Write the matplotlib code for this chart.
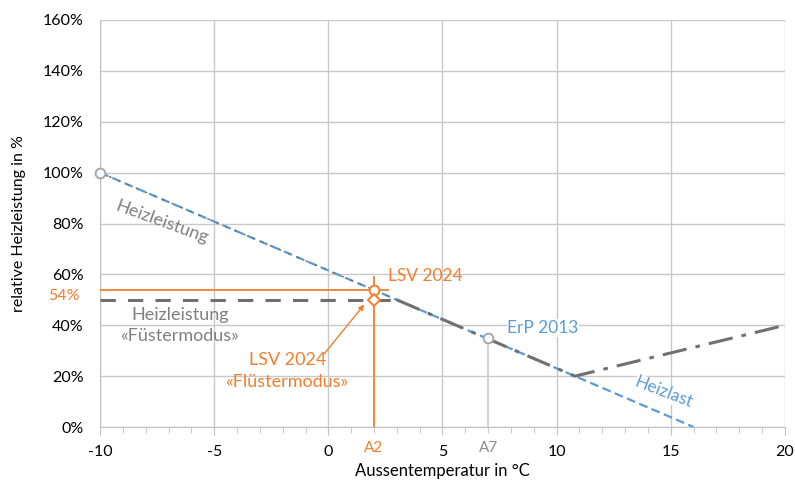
import matplotlib.pyplot as plt
from matplotlib.ticker import MultipleLocator, FuncFormatter

plt.rcParams['font.family'] = ['Lato', 'DejaVu Sans']

# data
heizlast_x = [-10, 16]
heizlast_y = [100, 0]
leistung_upper_x = [-10, 3]
leistung_upper_y = [100, 50]
leistung_x = [3, 10.8, 20]
leistung_y = [50, 20, 40]
fluester_x = [-10, 3]
fluester_y = [50, 50]
a2_temp = 2
a2_lsv = 54
a2_fluester = 50
a7_temp = 7
a7_erp = 35
start_x = -10
start_y = 100

orange = '#f07f2e'
blue = '#5b9bd5'
dgray = '#707070'
lgray = '#a6a6a6'

fig = plt.figure(figsize=(7.95, 4.83), dpi=100)
ax = fig.add_axes([0.1258, 0.1159, 0.8616, 0.8427])

ax.set_xlim(-10, 20)
ax.set_ylim(0, 160)
ax.xaxis.set_major_locator(MultipleLocator(5))
ax.xaxis.set_minor_locator(MultipleLocator(1))
ax.xaxis.set_major_formatter(FuncFormatter(lambda v, p: '%d' % v))
ax.yaxis.set_major_locator(MultipleLocator(20))
ax.yaxis.set_major_formatter(FuncFormatter(lambda v, p: '%d%%' % v))
ax.grid(True, which='major', color='#c8c8c8', lw=1)
for s in ['top', 'right']:
    ax.spines[s].set_visible(False)
ax.spines['left'].set_color('#bfbfbf')
ax.spines['bottom'].set_color('#bfbfbf')
ax.tick_params(axis='y', length=0, labelsize=11.5, pad=12)
ax.tick_params(axis='x', which='major', length=6, color='#bfbfbf', labelsize=11.5, pad=7)
ax.tick_params(axis='x', which='minor', length=4, color='#bfbfbf')
ax.set_axisbelow(True)

# Heizlast
ax.plot(heizlast_x, heizlast_y, color=blue, lw=1.6, ls=(0, (4, 2)), zorder=3)
# Heizleistung
ax.plot(leistung_upper_x, leistung_upper_y, color=dgray, lw=1.0, ls=(0, (2, 5)), zorder=4)
ax.plot(leistung_x, leistung_y, color=dgray, lw=2.2, ls=(0, (8, 3, 1.5, 3)), zorder=4)
# Fluestermodus
ax.plot(fluester_x, fluester_y, color=dgray, lw=2.2, ls=(0, (5, 4)), zorder=4)

# orange guides
ax.plot([-10, 2.6], [a2_lsv, a2_lsv], color=orange, lw=1.3, zorder=5)
ax.plot([a2_temp, a2_temp], [0, 59], color=orange, lw=1.3, zorder=5)
ax.plot([a7_temp, a7_temp], [0, a7_erp], color='#d0d0d0', lw=1.3, zorder=2)

ax.plot([a2_temp], [a2_lsv], marker='o', ms=7, mfc='white', mec=orange, mew=1.4, zorder=6)
ax.plot([a2_temp], [a2_fluester], marker='D', ms=6, mfc='white', mec=orange, mew=1.4, zorder=6)
ax.plot([start_x], [start_y], marker='o', ms=7, mfc='white', mec=lgray, mew=1.4, zorder=6, clip_on=False)
ax.plot([a7_temp], [a7_erp], marker='o', ms=7, mfc='white', mec=lgray, mew=1.4, zorder=6)

ax.annotate('', xy=(1.65, 49), xytext=(-0.25, 28),
            arrowprops=dict(arrowstyle='-|>', color=orange, lw=1, mutation_scale=8))

# texts
ax.text(-7.3, 80.5, 'Heizleistung', color='#808080', fontsize=13, rotation=-20,
        ha='center', va='center', zorder=7)
ax.text(2.6, 59.5, 'LSV 2024', color=orange, fontsize=12.5, ha='left', va='center')
ax.text(-6.5, 40, 'Heizleistung\n«Füstermodus»', color='#808080', fontsize=13,
        ha='center', va='center', linespacing=1.4)
ax.text(-1.8, 22, 'LSV 2024\n«Flüstermodus»', color=orange, fontsize=13,
        ha='center', va='center', linespacing=1.4)
ax.text(9.4, 39, 'ErP 2013', color=blue, fontsize=12.5, ha='center', va='center',
        bbox=dict(facecolor='white', edgecolor='none', pad=0.5))
ax.text(14.7, 13.5, 'Heizlast', color=blue, fontsize=12.5, rotation=-21,
        ha='center', va='center', bbox=dict(facecolor='white', edgecolor='none', pad=0.5))

# extra tick labels
ax.text(a2_temp, -5.5, 'A2', color=orange, fontsize=11, ha='center', va='top')
ax.text(a7_temp, -5.5, 'A7', color='#8c8c8c', fontsize=11, ha='center', va='top')
ax.text(-10.9, a2_lsv - 2.5, '54%', color=orange, fontsize=11.5, ha='right', va='center')

ax.set_xlabel('Aussentemperatur in °C', fontsize=12, labelpad=3)
ax.set_ylabel('relative Heizleistung in %', fontsize=11.5, labelpad=12)

fig.savefig('out.png', dpi=100)
